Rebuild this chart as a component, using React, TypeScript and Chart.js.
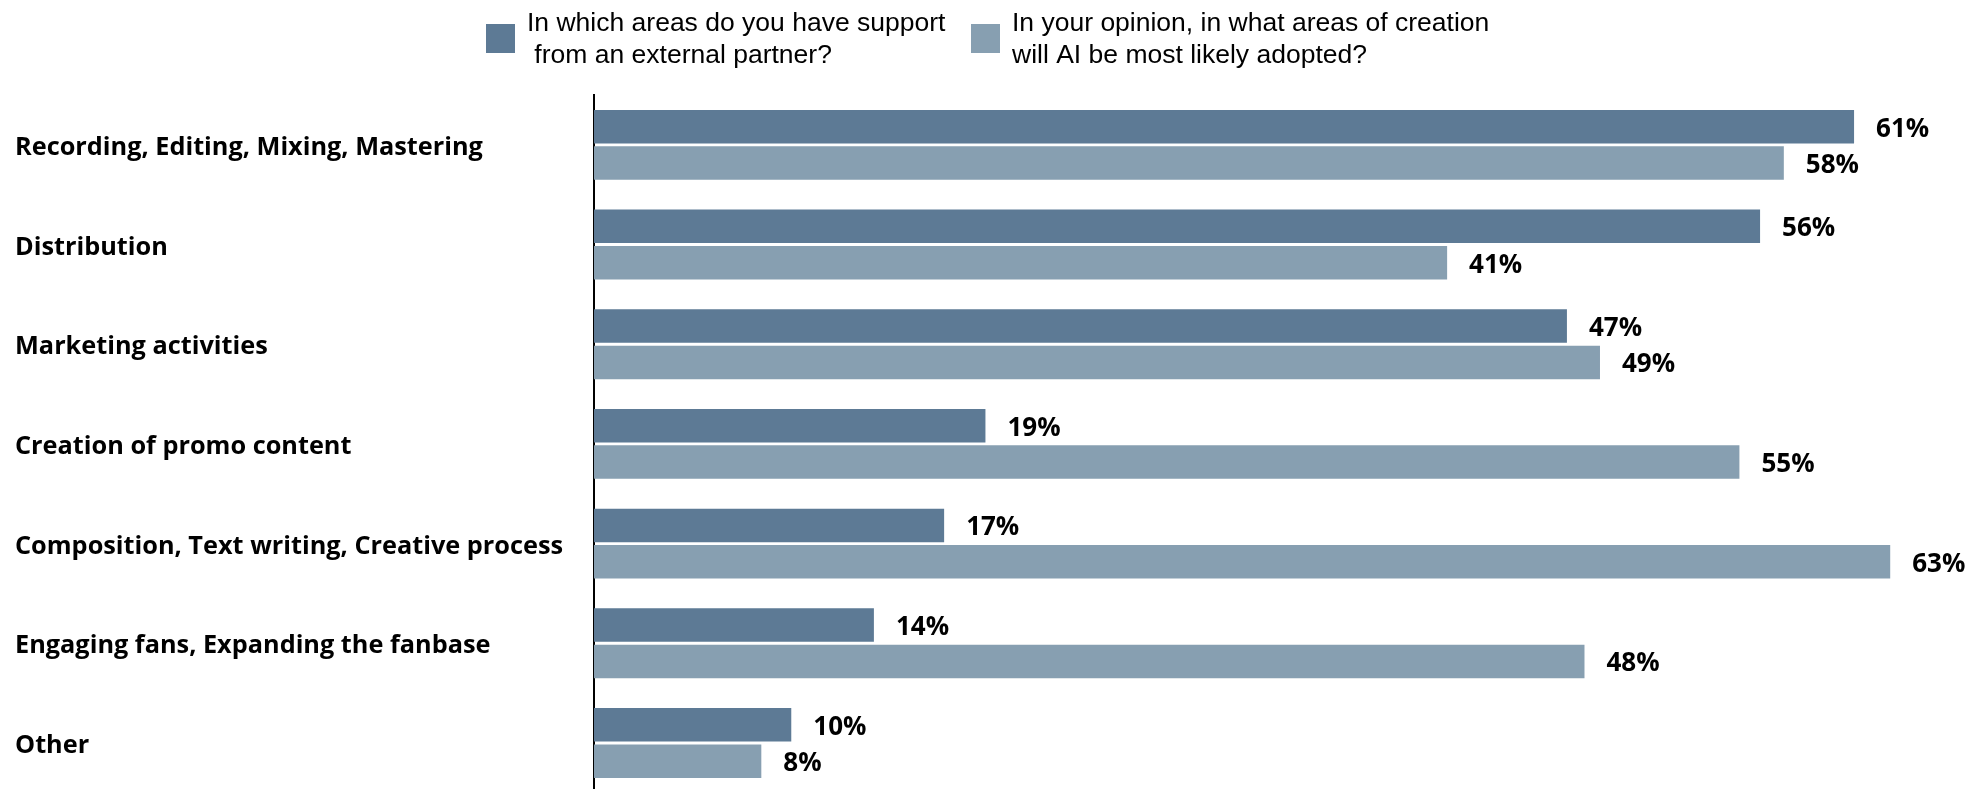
import React, { useEffect, useRef } from "react";
import { Chart, registerables } from "chart.js";

Chart.register(...registerables);

const CATEGORIES = [
  "Recording, Editing, Mixing, Mastering",
  "Distribution",
  "Marketing activities",
  "Creation of promo content",
  "Composition, Text writing, Creative process",
  "Engaging fans, Expanding the fanbase",
  "Other",
];

// In which areas do you have support from an external partner? (%)
const SUPPORT_VALUES = [61.0, 56.45, 47.1, 18.95, 16.95, 13.55, 9.55];
// In your opinion, in what areas of creation will AI be most likely adopted? (%)
const AI_VALUES = [57.6, 41.3, 48.7, 55.45, 62.75, 47.95, 8.1];

const SERIES_LABELS = [
  ["In which areas do you have support", " from an external partner?"],
  ["In your opinion, in what areas of creation", "will AI be most likely adopted?"],
];

const SERIES_COLORS = ["#5D7A95", "#879FB1"];

const X_MAX = 67;

const LABEL_FONT = "'Open Sans', 'Noto Sans', sans-serif";
const LEGEND_FONT = "'Liberation Sans', Arial, sans-serif";

const legendPlugin = {
  id: "customLegend",
  afterDraw(chart: any) {
    const ctx = chart.ctx;
    const opts = chart.options.plugins.customLegend;
    ctx.save();
    ctx.font = `${opts.fontSize}px ${LEGEND_FONT}`;
    ctx.textBaseline = "alphabetic";
    ctx.textAlign = "left";
    chart.data.datasets.forEach((ds: any, i: number) => {
      const bx = opts.boxX[i];
      ctx.fillStyle = ds.backgroundColor;
      ctx.fillRect(bx, opts.boxY, opts.boxSize, opts.boxSize);
      ctx.fillStyle = "#000000";
      const lines: string[] = SERIES_LABELS[i];
      lines.forEach((line, j) => {
        ctx.fillText(line, bx + opts.boxSize + opts.gap, opts.firstBaseline + j * opts.lineHeight);
      });
    });
    ctx.restore();
  },
};

const valueLabelPlugin = {
  id: "valueLabels",
  afterDatasetsDraw(chart: any) {
    const ctx = chart.ctx;
    const opts = chart.options.plugins.valueLabels;
    ctx.save();
    ctx.font = `bold ${opts.fontSize}px ${LABEL_FONT}`;
    ctx.fillStyle = "#000000";
    ctx.textAlign = "left";
    ctx.textBaseline = "middle";
    chart.data.datasets.forEach((ds: any, i: number) => {
      const meta = chart.getDatasetMeta(i);
      meta.data.forEach((el: any, j: number) => {
        const v = ds.data[j];
        ctx.fillText(`${Math.round(v)}%`, el.x + opts.offset, el.y + opts.dy);
      });
    });
    ctx.restore();
  },
};

export default function App() {
  const canvasRef = useRef<HTMLCanvasElement | null>(null);

  useEffect(() => {
    document.body.style.margin = "0";
    const canvas = canvasRef.current;
    if (!canvas) return;
    const chart = new Chart(canvas, {
      type: "bar",
      data: {
        labels: CATEGORIES,
        datasets: [
          {
            label: SERIES_LABELS[0].join(""),
            data: SUPPORT_VALUES,
            backgroundColor: SERIES_COLORS[0],
            borderWidth: 0,
            barPercentage: 0.92,
            categoryPercentage: 0.73,
          },
          {
            label: SERIES_LABELS[1].join(" "),
            data: AI_VALUES,
            backgroundColor: SERIES_COLORS[1],
            borderWidth: 0,
            barPercentage: 0.92,
            categoryPercentage: 0.73,
          },
        ],
      },
      options: {
        indexAxis: "y",
        animation: false,
        responsive: true,
        maintainAspectRatio: false,
        layout: { padding: { top: 95, left: 15, right: 8, bottom: 0 } },
        scales: {
          x: {
            display: false,
            min: 0,
            max: X_MAX,
          },
          y: {
            grid: { display: false },
            border: { display: true, color: "#000000", width: 2 },
            ticks: {
              crossAlign: "far",
              labelOffset: 3,
              color: "#000000",
              font: { family: LABEL_FONT, size: 25.3, weight: "bold" },
            },
            afterFit(scale: any) {
              scale.width = 579;
            },
          },
        },
        plugins: {
          legend: { display: false },
          tooltip: { enabled: false },
          customLegend: {
            boxX: [486, 971],
            boxY: 24,
            boxSize: 29,
            gap: 12,
            fontSize: 26.5,
            firstBaseline: 31,
            lineHeight: 32,
          },
          valueLabels: { fontSize: 26, offset: 22, dy: 2.5 },
        } as any,
      },
      plugins: [legendPlugin, valueLabelPlugin],
    });
    if ((document as any).fonts && (document as any).fonts.load) {
      Promise.all([
        (document as any).fonts.load(`bold 25px ${LABEL_FONT}`),
        (document as any).fonts.load(`26px ${LEGEND_FONT}`),
      ])
        .then(() => chart.update())
        .catch(() => {});
    }
    return () => chart.destroy();
  }, []);

  return (
    <div
      style={{
        position: "fixed",
        left: 0,
        top: 0,
        width: 1986,
        height: 789,
        overflow: "hidden",
        background: "#ffffff",
      }}
    >
      <div style={{ position: "relative", width: 1986, height: 811 }}>
        <canvas ref={canvasRef} />
      </div>
    </div>
  );
}
